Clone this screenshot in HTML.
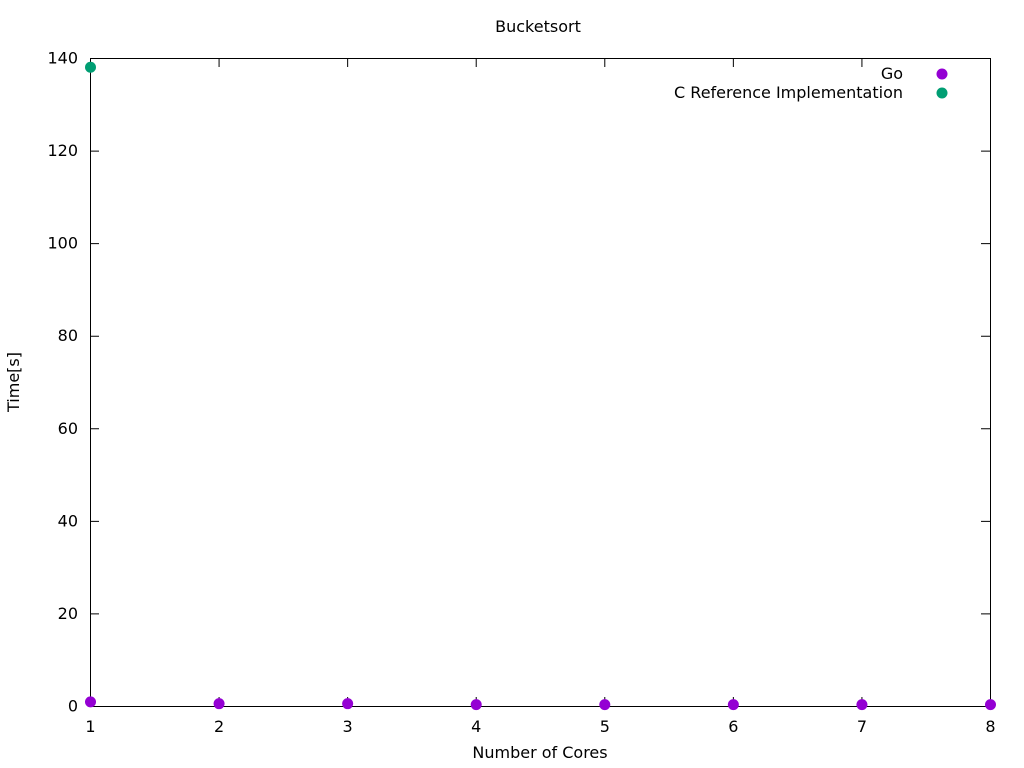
<!DOCTYPE html>
<html><head><meta charset="utf-8"><style>body{margin:0;background:#fff}svg{display:block;font-family:"DejaVu Sans",sans-serif;font-size:16px}</style></head>
<body>
<svg id="chart" width="1024" height="768" xmlns="http://www.w3.org/2000/svg">
<rect width="1024" height="768" fill="#fff"/>
<text x="538" y="32" text-anchor="middle">Bucketsort</text>
<text transform="translate(19,382) rotate(-90)" text-anchor="middle">Time[s]</text>
<text x="540" y="758" text-anchor="middle">Number of Cores</text>
<g id="ticks"></g>
<rect x="90.5" y="58.5" width="900" height="648" fill="none" stroke="#000" stroke-width="1"/>
<g id="marks"></g>
<g>
<text x="903" y="79" text-anchor="end">Go</text>
<circle cx="942" cy="74" r="5.5" fill="#9400d3"/>
<text x="903" y="98" text-anchor="end">C Reference Implementation</text>
<circle cx="942" cy="93" r="5.5" fill="#009e73"/>
</g>
</svg>
<script>
const cores=[1,2,3,4,5,6,7,8];
const goTimes=[0.9,0.5,0.5,0.3,0.3,0.3,0.3,0.3];
const cCores=[1];
const cTimes=[138];
const yTicks=[0,20,40,60,80,100,120,140];
const NS='http://www.w3.org/2000/svg';
const X=v=>90+(v-1)*900/7, Y=v=>706-v*648/140;
const tg=document.getElementById('ticks'), mg=document.getElementById('marks');
function mk(t,a,p){const e=document.createElementNS(NS,t);for(const k in a)e.setAttribute(k,a[k]);p.appendChild(e);return e;}
yTicks.forEach(v=>{const y=Y(v)+0.5;
 let l=mk('path',{d:`M90 ${y}h9M990 ${y}h-9`,stroke:'#000'},tg);
 
 
 let t=mk('text',{x:78,y:y+5,'text-anchor':'end'},tg);t.textContent=v;
 
 });
cores.forEach(v=>{const x=X(v)+0.5;
 let l=mk('path',{d:`M${x} 706v-9M${x} 58v9`,stroke:'#000'},tg);
 
 
 let t=mk('text',{x:x,y:732,'text-anchor':'middle'},tg);t.textContent=v;
 
 });
cCores.forEach((c,i)=>{let p=mk('circle',{cx:X(c)+0.5,cy:Y(cTimes[i]),r:5.5,fill:'#009e73'},mg);
 
 });
cores.forEach((c,i)=>{let p=mk('circle',{cx:X(c)+0.5,cy:Y(goTimes[i]),r:5.5,fill:'#9400d3'},mg);
 
 });
</script>
</body></html>
